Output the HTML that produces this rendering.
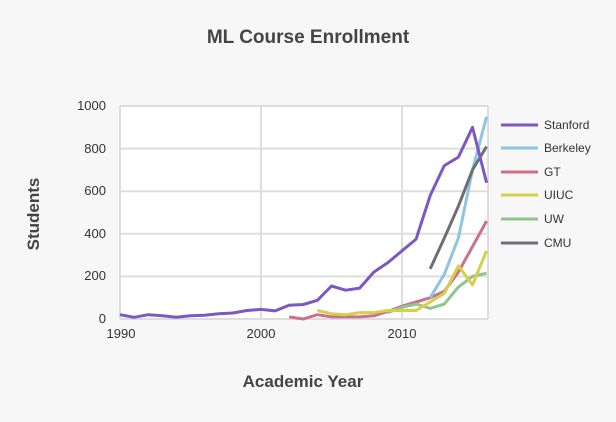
<!DOCTYPE html>
<html><head><meta charset="utf-8"><style>
body{margin:0;background:#f7f7f7;width:616px;height:417px;overflow:hidden;font-family:"Liberation Sans",sans-serif}
</style></head><body>
<svg id="s" width="616" height="417" xmlns="http://www.w3.org/2000/svg" font-family="Liberation Sans, sans-serif">
<rect width="616" height="417" fill="#f7f7f7"/>
<text x="308" y="43" text-anchor="middle" font-size="19" font-weight="bold" fill="#444">ML Course Enrollment</text>
<rect x="120" y="106" width="368" height="213" fill="#fff"/>
<g stroke="#ddd" stroke-width="2">
<line x1="120" y1="106" x2="488" y2="106"/><line x1="120" y1="148.6" x2="488" y2="148.6"/>
<line x1="120" y1="191.2" x2="488" y2="191.2"/><line x1="120" y1="233.8" x2="488" y2="233.8"/>
<line x1="120" y1="276.4" x2="488" y2="276.4"/><line x1="120" y1="319" x2="488" y2="319"/>
<line x1="120" y1="106" x2="120" y2="319"/><line x1="261" y1="106" x2="261" y2="319"/>
<line x1="402" y1="106" x2="402" y2="319"/><line x1="488" y1="106" x2="488" y2="319"/>
</g>
<g font-size="13" fill="#333" text-anchor="end">
<text x="106" y="110">1000</text><text x="106" y="153">800</text><text x="106" y="195">600</text>
<text x="106" y="238">400</text><text x="106" y="280">200</text><text x="106" y="323">0</text>
</g>
<g font-size="13" fill="#333" text-anchor="middle">
<text x="121" y="338">1990</text><text x="261" y="338">2000</text><text x="402" y="338">2010</text>
</g>
<text x="303" y="387" text-anchor="middle" font-size="17" font-weight="bold" fill="#444">Academic Year</text>
<text transform="translate(39,214) rotate(-90)" text-anchor="middle" font-size="17" font-weight="bold" fill="#444">Students</text>
<g id="lines" fill="none" stroke-width="3" stroke-linejoin="round"></g>
<g stroke-width="3">
<line x1="501" y1="125" x2="538" y2="125" stroke="#7e57c2"/>
<line x1="501" y1="148" x2="538" y2="148" stroke="#8ec5e0"/>
<line x1="501" y1="172" x2="538" y2="172" stroke="#c9728a"/>
<line x1="501" y1="195" x2="538" y2="195" stroke="#d5cf4a"/>
<line x1="501" y1="219" x2="538" y2="219" stroke="#8fc48f"/>
<line x1="501" y1="243" x2="538" y2="243" stroke="#6e6e78"/>
</g>
<g font-size="12" fill="#333">
<text x="544" y="129">Stanford</text><text x="544" y="152">Berkeley</text><text x="544" y="176">GT</text>
<text x="544" y="199">UIUC</text><text x="544" y="223">UW</text><text x="544" y="247">CMU</text>
</g>
</svg>
<script>
var S=[
["#c9728a",2002,[10,0,20,10,10,10,15,35,60,80,100,130,220,340,460]],
["#8fc48f",2009,[30,55,70,50,70,150,200,215]],
["#d5cf4a",2004,[40,25,20,30,30,40,40,40,80,120,250,160,320]],
["#8ec5e0",2012,[100,210,380,700,950]],
["#6e6e78",2012,[235,380,530,700,810]],
["#7e57c2",1990,[20,8,20,15,8,15,18,25,28,40,45,38,65,68,88,155,135,145,220,265,320,375,580,720,760,900,640]]
];
var g=document.getElementById("lines"),h="";
S.forEach(function(s){var p=s[2].map(function(v,i){return(120+(s[1]+i-1990)*14.1).toFixed(1)+","+(319-v*0.213).toFixed(1)}).join(" ");
h+='<polyline stroke="'+s[0]+'" points="'+p+'"/>';});
g.innerHTML=h;
</script>
</body></html>
